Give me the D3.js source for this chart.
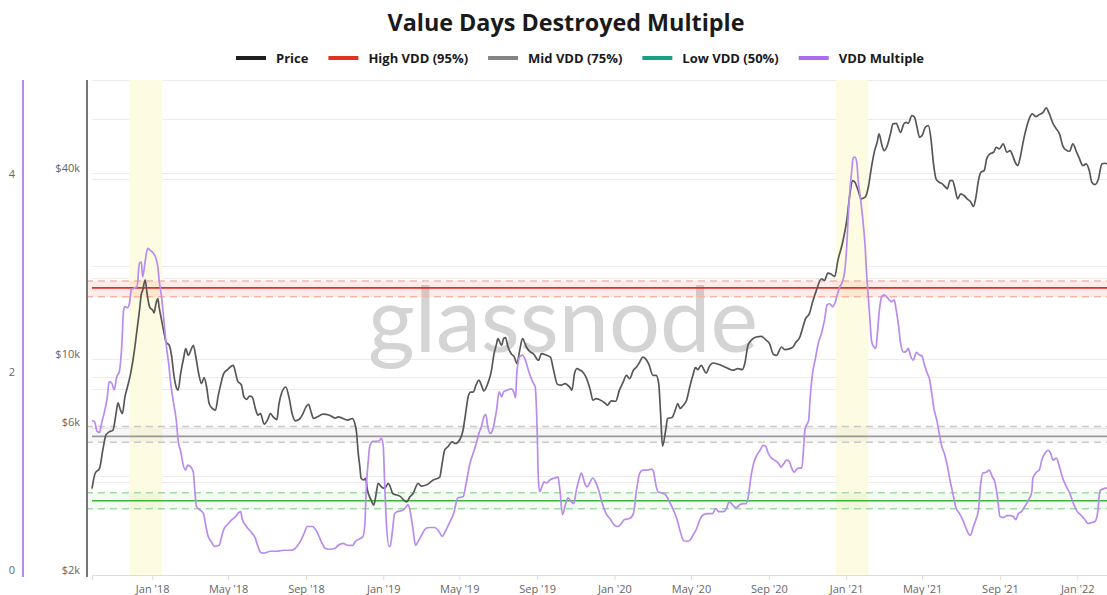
<!DOCTYPE html>
<html>
<head>
<meta charset="utf-8">
<script src="https://cdn.jsdelivr.net/npm/d3@7"></script>
<style>
body { margin: 0; background: #fff; overflow: hidden; }
svg { display: block; }
svg text { font-family: "Open Sans", sans-serif; }
</style>
</head>
<body>
<div id="chart"></div>
<script>
// values
var priceData = [
	["2017-09-28", 3810], ["2017-10-03", 4270], ["2017-10-10", 4430], ["2017-10-15", 5070], ["2017-10-20", 5670],
	["2017-10-25", 5810], ["2017-10-31", 5880], ["2017-11-05", 6660], ["2017-11-08", 7210], ["2017-11-12", 6830],
	["2017-11-15", 6660], ["2017-11-19", 7540], ["2017-11-23", 8120], ["2017-11-28", 8970], ["2017-12-04", 10670],
	["2017-12-08", 12390], ["2017-12-12", 14370], ["2017-12-15", 16270], ["2017-12-17", 16680], ["2017-12-21", 18050],
	["2017-12-24", 16270], ["2017-12-28", 14730], ["2018-01-02", 14370], ["2018-01-04", 14090], ["2018-01-07", 15100],
	["2018-01-10", 15680], ["2018-01-12", 14730], ["2018-01-16", 13340], ["2018-01-20", 12080], ["2018-01-23", 11350],
	["2018-01-28", 11080], ["2018-02-01", 10150], ["2018-02-04", 8970], ["2018-02-08", 8120], ["2018-02-11", 7930],
	["2018-02-15", 8970], ["2018-02-20", 10150], ["2018-02-23", 10810], ["2018-02-27", 10280], ["2018-03-03", 10670],
	["2018-03-07", 11080], ["2018-03-11", 10150], ["2018-03-16", 8860], ["2018-03-20", 8330], ["2018-03-24", 8710],
	["2018-03-28", 8120], ["2018-04-01", 7180], ["2018-04-06", 6920], ["2018-04-11", 6830], ["2018-04-15", 7540],
	["2018-04-19", 8230], ["2018-04-24", 8970], ["2018-04-30", 9240], ["2018-05-09", 9540], ["2018-05-13", 8970],
	["2018-05-16", 8490], ["2018-05-22", 8230], ["2018-05-26", 7540], ["2018-05-30", 7400], ["2018-06-04", 7580],
	["2018-06-08", 7540], ["2018-06-13", 6920], ["2018-06-17", 6580], ["2018-06-21", 6660], ["2018-06-27", 6150],
	["2018-07-02", 6340], ["2018-07-07", 6660], ["2018-07-11", 6500], ["2018-07-17", 6370], ["2018-07-20", 7090],
	["2018-07-25", 7820], ["2018-07-31", 8120], ["2018-08-05", 7540], ["2018-08-10", 6660], ["2018-08-15", 6310],
	["2018-08-21", 6370], ["2018-08-26", 6580], ["2018-09-01", 7000], ["2018-09-05", 7140], ["2018-09-09", 6740],
	["2018-09-13", 6420], ["2018-09-19", 6500], ["2018-09-28", 6630], ["2018-10-08", 6580], ["2018-10-17", 6440],
	["2018-10-22", 6500], ["2018-11-06", 6340], ["2018-11-13", 6420], ["2018-11-17", 6190], ["2018-11-20", 5740],
	["2018-11-22", 5070], ["2018-11-25", 4480], ["2018-11-27", 4110], ["2018-12-01", 4060], ["2018-12-04", 4110],
	["2018-12-07", 3770], ["2018-12-13", 3490], ["2018-12-17", 3370], ["2018-12-20", 3580], ["2018-12-24", 3960],
	["2018-12-29", 3860], ["2019-01-03", 3810], ["2019-01-09", 3960], ["2019-01-12", 3860], ["2019-01-16", 3670],
	["2019-01-27", 3600], ["2019-02-07", 3450], ["2019-02-12", 3580], ["2019-02-17", 3670], ["2019-02-25", 3960],
	["2019-03-02", 3880], ["2019-03-10", 3910], ["2019-03-21", 4060], ["2019-03-31", 4140], ["2019-04-04", 4590],
	["2019-04-08", 5070], ["2019-04-13", 5200], ["2019-04-20", 5390], ["2019-04-25", 5330], ["2019-05-02", 5490],
	["2019-05-07", 5880], ["2019-05-11", 6660], ["2019-05-15", 7540], ["2019-05-19", 7820], ["2019-05-23", 7820],
	["2019-05-28", 8290], ["2019-06-01", 8540], ["2019-06-05", 8230], ["2019-06-09", 7880], ["2019-06-15", 8330],
	["2019-06-21", 9200], ["2019-06-24", 10150], ["2019-06-29", 11220], ["2019-07-01", 11640], ["2019-07-07", 11080],
	["2019-07-10", 11640], ["2019-07-13", 11730], ["2019-07-17", 10940], ["2019-07-22", 10410], ["2019-07-27", 10150],
	["2019-07-31", 9670], ["2019-08-05", 10810], ["2019-08-09", 11640], ["2019-08-15", 10940], ["2019-08-21", 10540],
	["2019-08-26", 10410], ["2019-09-03", 9910], ["2019-09-08", 10410], ["2019-09-16", 10280], ["2019-09-22", 10150],
	["2019-09-27", 9200], ["2019-10-03", 8290], ["2019-10-09", 8230], ["2019-10-15", 8330], ["2019-10-23", 8080],
	["2019-10-26", 7930], ["2019-10-30", 8970], ["2019-11-03", 9310], ["2019-11-08", 9200], ["2019-11-12", 9080],
	["2019-11-17", 8750], ["2019-11-24", 7930], ["2019-11-28", 7360], ["2019-12-03", 7450], ["2019-12-08", 7400],
	["2019-12-18", 7180], ["2019-12-21", 7090], ["2019-12-27", 7320], ["2020-01-03", 7300], ["2020-01-09", 7930],
	["2020-01-15", 8430], ["2020-01-20", 8860], ["2020-01-25", 8640], ["2020-01-31", 9200], ["2020-02-05", 9430],
	["2020-02-10", 9780], ["2020-02-15", 10150], ["2020-02-19", 10030], ["2020-02-24", 9670], ["2020-03-02", 8860],
	["2020-03-07", 8860], ["2020-03-11", 8330], ["2020-03-14", 6660], ["2020-03-17", 5220], ["2020-03-22", 5880],
	["2020-03-25", 6420], ["2020-04-01", 6470], ["2020-04-07", 6920], ["2020-04-10", 7180], ["2020-04-14", 6920],
	["2020-04-19", 7090], ["2020-04-24", 7360], ["2020-04-29", 8120], ["2020-05-04", 8860], ["2020-05-08", 9380],
	["2020-05-12", 9240], ["2020-05-17", 9540], ["2020-05-25", 9010], ["2020-05-30", 9470], ["2020-06-05", 9710],
	["2020-06-13", 9620], ["2020-06-21", 9470], ["2020-06-29", 9310], ["2020-07-06", 9200], ["2020-07-14", 9310],
	["2020-07-21", 9240], ["2020-07-25", 9670], ["2020-07-30", 11080], ["2020-08-04", 11490], ["2020-08-12", 11780],
	["2020-08-20", 11840], ["2020-08-28", 11490], ["2020-09-02", 11220], ["2020-09-08", 10360], ["2020-09-13", 10280],
	["2020-09-21", 10940], ["2020-09-26", 10730], ["2020-10-04", 10810], ["2020-10-09", 10940], ["2020-10-14", 11350],
	["2020-10-20", 11780], ["2020-10-24", 12540], ["2020-10-29", 13510], ["2020-11-04", 14030], ["2020-11-09", 15290],
	["2020-11-15", 16680], ["2020-11-23", 18190], ["2020-11-28", 17970], ["2020-12-03", 18970], ["2020-12-09", 18790],
	["2020-12-14", 18510], ["2020-12-19", 20860], ["2020-12-26", 23620], ["2021-01-02", 28080], ["2021-01-07", 34250],
	["2021-01-11", 37820], ["2021-01-15", 37340], ["2021-01-20", 35100], ["2021-01-25", 33010], ["2021-01-31", 33400],
	["2021-02-05", 35980], ["2021-02-10", 41760], ["2021-02-15", 47260], ["2021-02-19", 50300], ["2021-02-22", 53550],
	["2021-02-26", 49700], ["2021-03-02", 47260], ["2021-03-06", 48460], ["2021-03-12", 53550], ["2021-03-16", 57670],
	["2021-03-21", 57930], ["2021-03-28", 54170], ["2021-04-02", 57670], ["2021-04-06", 58370], ["2021-04-09", 57930],
	["2021-04-15", 61350], ["2021-04-19", 60580], ["2021-04-23", 56240], ["2021-04-27", 52200], ["2021-05-01", 52870],
	["2021-05-06", 56240], ["2021-05-11", 56950], ["2021-05-15", 51580], ["2021-05-19", 42820], ["2021-05-23", 38300],
	["2021-05-28", 37340], ["2021-06-02", 36900], ["2021-06-06", 36160], ["2021-06-10", 35560], ["2021-06-14", 37820],
	["2021-06-18", 37820], ["2021-06-22", 35560], ["2021-06-26", 33010], ["2021-07-01", 34250], ["2021-07-06", 33820],
	["2021-07-11", 33010], ["2021-07-17", 32190], ["2021-07-21", 31160], ["2021-07-25", 33400], ["2021-07-29", 37820],
	["2021-08-02", 40240], ["2021-08-07", 40740], ["2021-08-11", 44450], ["2021-08-16", 46120], ["2021-08-22", 46690],
	["2021-08-26", 48460], ["2021-08-31", 47860], ["2021-09-06", 49700], ["2021-09-12", 46690], ["2021-09-17", 47260],
	["2021-09-21", 45560], ["2021-09-25", 43340], ["2021-09-29", 42280], ["2021-10-03", 44980], ["2021-10-08", 50940],
	["2021-10-13", 56240], ["2021-10-18", 60580], ["2021-10-22", 62120], ["2021-10-28", 60880], ["2021-11-02", 61800],
	["2021-11-08", 62860], ["2021-11-13", 64950], ["2021-11-17", 62860], ["2021-11-24", 57670], ["2021-11-29", 55580],
	["2021-12-04", 53550], ["2021-12-09", 49070], ["2021-12-14", 47520], ["2021-12-20", 47040], ["2021-12-25", 49700],
	["2021-12-31", 46690], ["2022-01-04", 44790], ["2022-01-10", 42280], ["2022-01-15", 42820], ["2022-01-20", 40740],
	["2022-01-24", 37340], ["2022-01-29", 36700], ["2022-02-03", 38020], ["2022-02-09", 42820], ["2022-02-14", 43020],
	["2022-02-17", 42820]
];

var vddData = [
	["2017-09-28", 1.56], ["2017-10-02", 1.55], ["2017-10-06", 1.45], ["2017-10-10", 1.44], ["2017-10-13", 1.53],
	["2017-10-17", 1.63], ["2017-10-22", 1.79], ["2017-10-25", 1.95], ["2017-10-29", 1.94], ["2017-11-02", 1.87],
	["2017-11-06", 2.00], ["2017-11-10", 2.05], ["2017-11-14", 2.31], ["2017-11-17", 2.68], ["2017-11-19", 2.71],
	["2017-11-23", 2.70], ["2017-11-26", 2.74], ["2017-11-29", 2.88], ["2017-12-04", 2.90], ["2017-12-08", 2.91],
	["2017-12-12", 3.15], ["2017-12-15", 3.16], ["2017-12-17", 3.01], ["2017-12-21", 3.17], ["2017-12-25", 3.30],
	["2017-12-29", 3.28], ["2018-01-03", 3.25], ["2018-01-07", 3.20], ["2018-01-10", 3.11], ["2018-01-12", 2.98],
	["2018-01-16", 2.80], ["2018-01-19", 2.61], ["2018-01-23", 2.34], ["2018-01-27", 2.14], ["2018-01-31", 1.90],
	["2018-02-04", 1.73], ["2018-02-08", 1.57], ["2018-02-11", 1.36], ["2018-02-15", 1.25], ["2018-02-20", 1.09],
	["2018-02-23", 1.06], ["2018-02-26", 1.11], ["2018-03-03", 1.09], ["2018-03-07", 1.04], ["2018-03-09", 0.89],
	["2018-03-12", 0.69], ["2018-03-17", 0.66], ["2018-03-23", 0.62], ["2018-03-27", 0.49], ["2018-03-30", 0.40],
	["2018-04-04", 0.34], ["2018-04-10", 0.29], ["2018-04-17", 0.30], ["2018-04-20", 0.37], ["2018-04-24", 0.46],
	["2018-04-30", 0.51], ["2018-05-07", 0.56], ["2018-05-13", 0.59], ["2018-05-16", 0.62], ["2018-05-21", 0.64],
	["2018-05-23", 0.57], ["2018-05-30", 0.49], ["2018-06-08", 0.42], ["2018-06-13", 0.37], ["2018-06-17", 0.29],
	["2018-06-21", 0.23], ["2018-06-26", 0.22], ["2018-07-07", 0.24], ["2018-07-17", 0.24], ["2018-07-28", 0.25],
	["2018-08-09", 0.25], ["2018-08-15", 0.27], ["2018-08-23", 0.34], ["2018-08-29", 0.42], ["2018-09-03", 0.49],
	["2018-09-11", 0.49], ["2018-09-18", 0.44], ["2018-09-25", 0.34], ["2018-10-01", 0.27], ["2018-10-08", 0.26],
	["2018-10-17", 0.27], ["2018-10-22", 0.30], ["2018-10-29", 0.32], ["2018-11-06", 0.30], ["2018-11-14", 0.30],
	["2018-11-18", 0.34], ["2018-11-23", 0.36], ["2018-11-30", 0.39], ["2018-12-03", 0.52], ["2018-12-05", 0.86],
	["2018-12-08", 1.13], ["2018-12-11", 1.31], ["2018-12-16", 1.35], ["2018-12-21", 1.35], ["2018-12-26", 1.36],
	["2018-12-29", 1.38], ["2019-01-01", 1.30], ["2019-01-03", 0.96], ["2019-01-06", 0.52], ["2019-01-10", 0.29],
	["2019-01-12", 0.29], ["2019-01-15", 0.42], ["2019-01-19", 0.62], ["2019-01-23", 0.64], ["2019-01-30", 0.65],
	["2019-02-04", 0.67], ["2019-02-09", 0.71], ["2019-02-12", 0.66], ["2019-02-17", 0.46], ["2019-02-21", 0.30],
	["2019-02-26", 0.35], ["2019-03-04", 0.42], ["2019-03-09", 0.47], ["2019-03-15", 0.48], ["2019-03-23", 0.48],
	["2019-03-30", 0.44], ["2019-04-04", 0.39], ["2019-04-09", 0.44], ["2019-04-15", 0.52], ["2019-04-22", 0.62],
	["2019-04-29", 0.78], ["2019-05-07", 0.79], ["2019-05-12", 0.93], ["2019-05-18", 1.13], ["2019-05-23", 1.23],
	["2019-05-28", 1.33], ["2019-06-01", 1.43], ["2019-06-05", 1.50], ["2019-06-09", 1.60], ["2019-06-12", 1.62],
	["2019-06-15", 1.50], ["2019-06-19", 1.43], ["2019-06-23", 1.47], ["2019-06-29", 1.67], ["2019-07-03", 1.85],
	["2019-07-07", 1.80], ["2019-07-10", 1.85], ["2019-07-17", 1.87], ["2019-07-22", 1.88], ["2019-07-26", 1.85],
	["2019-07-29", 1.79], ["2019-07-31", 2.05], ["2019-08-05", 2.21], ["2019-08-09", 2.22], ["2019-08-14", 2.16],
	["2019-08-19", 2.05], ["2019-08-25", 1.95], ["2019-08-29", 1.90], ["2019-09-01", 1.47], ["2019-09-03", 0.96],
	["2019-09-05", 0.84], ["2019-09-08", 0.88], ["2019-09-12", 0.94], ["2019-09-16", 0.93], ["2019-09-21", 0.96],
	["2019-09-29", 0.98], ["2019-10-04", 0.99], ["2019-10-07", 0.86], ["2019-10-11", 0.61], ["2019-10-16", 0.72],
	["2019-10-20", 0.78], ["2019-10-25", 0.74], ["2019-10-29", 0.72], ["2019-11-02", 0.86], ["2019-11-06", 0.96],
	["2019-11-10", 1.03], ["2019-11-15", 0.93], ["2019-11-19", 0.89], ["2019-11-23", 0.93], ["2019-11-28", 0.98],
	["2019-12-03", 0.93], ["2019-12-08", 0.84], ["2019-12-13", 0.72], ["2019-12-19", 0.62], ["2019-12-26", 0.56],
	["2019-12-31", 0.51], ["2020-01-07", 0.49], ["2020-01-12", 0.52], ["2020-01-17", 0.56], ["2020-01-25", 0.57],
	["2020-01-31", 0.62], ["2020-02-05", 0.86], ["2020-02-10", 1.03], ["2020-02-15", 1.06], ["2020-02-23", 1.06],
	["2020-02-29", 1.07], ["2020-03-03", 1.04], ["2020-03-06", 0.93], ["2020-03-10", 0.84], ["2020-03-15", 0.83],
	["2020-03-22", 0.81], ["2020-03-28", 0.74], ["2020-04-03", 0.66], ["2020-04-09", 0.56], ["2020-04-14", 0.44],
	["2020-04-19", 0.35], ["2020-04-24", 0.34], ["2020-04-29", 0.35], ["2020-05-04", 0.40], ["2020-05-10", 0.47],
	["2020-05-15", 0.56], ["2020-05-21", 0.61], ["2020-05-28", 0.62], ["2020-06-04", 0.62], ["2020-06-09", 0.67],
	["2020-06-14", 0.64], ["2020-06-21", 0.64], ["2020-06-26", 0.67], ["2020-06-30", 0.74], ["2020-07-04", 0.72],
	["2020-07-08", 0.69], ["2020-07-12", 0.68], ["2020-07-17", 0.71], ["2020-07-23", 0.72], ["2020-07-27", 0.72],
	["2020-07-31", 0.81], ["2020-08-03", 0.96], ["2020-08-08", 1.13], ["2020-08-13", 1.21], ["2020-08-18", 1.26],
	["2020-08-23", 1.31], ["2020-08-27", 1.30], ["2020-08-31", 1.23], ["2020-09-05", 1.18], ["2020-09-10", 1.16],
	["2020-09-16", 1.13], ["2020-09-20", 1.09], ["2020-09-24", 1.12], ["2020-09-29", 1.16], ["2020-10-03", 1.15],
	["2020-10-07", 1.08], ["2020-10-11", 1.04], ["2020-10-15", 1.07], ["2020-10-19", 1.08], ["2020-10-23", 1.08],
	["2020-10-26", 1.30], ["2020-10-28", 1.47], ["2020-11-03", 1.57], ["2020-11-05", 1.77], ["2020-11-09", 2.04],
	["2020-11-13", 2.17], ["2020-11-18", 2.34], ["2020-11-23", 2.44], ["2020-11-28", 2.58], ["2020-12-02", 2.73],
	["2020-12-06", 2.74], ["2020-12-11", 2.71], ["2020-12-14", 2.74], ["2020-12-18", 2.83], ["2020-12-22", 2.91],
	["2020-12-26", 2.96], ["2020-12-30", 3.08], ["2021-01-02", 3.32], ["2021-01-04", 3.59], ["2021-01-07", 3.89],
	["2021-01-10", 4.09], ["2021-01-12", 4.21], ["2021-01-15", 4.22], ["2021-01-18", 4.16], ["2021-01-20", 3.99],
	["2021-01-24", 3.79], ["2021-01-28", 3.55], ["2021-01-31", 3.32], ["2021-02-02", 3.08], ["2021-02-05", 2.81],
	["2021-02-08", 2.54], ["2021-02-10", 2.37], ["2021-02-13", 2.31], ["2021-02-17", 2.29], ["2021-02-19", 2.41],
	["2021-02-22", 2.64], ["2021-02-26", 2.81], ["2021-03-02", 2.83], ["2021-03-06", 2.81], ["2021-03-10", 2.78],
	["2021-03-14", 2.76], ["2021-03-18", 2.78], ["2021-03-21", 2.68], ["2021-03-25", 2.51], ["2021-03-28", 2.34],
	["2021-04-02", 2.25], ["2021-04-06", 2.26], ["2021-04-09", 2.29], ["2021-04-13", 2.21], ["2021-04-17", 2.17],
	["2021-04-22", 2.25], ["2021-04-25", 2.23], ["2021-05-01", 2.21], ["2021-05-04", 2.14], ["2021-05-09", 2.04],
	["2021-05-13", 1.97], ["2021-05-17", 1.80], ["2021-05-20", 1.67], ["2021-05-24", 1.57], ["2021-05-28", 1.43],
	["2021-06-01", 1.30], ["2021-06-05", 1.23], ["2021-06-09", 1.13], ["2021-06-14", 0.96], ["2021-06-19", 0.81],
	["2021-06-23", 0.69], ["2021-06-29", 0.62], ["2021-07-04", 0.56], ["2021-07-10", 0.46], ["2021-07-16", 0.40],
	["2021-07-21", 0.49], ["2021-07-25", 0.56], ["2021-07-29", 0.66], ["2021-08-01", 0.89], ["2021-08-05", 1.03],
	["2021-08-11", 1.04], ["2021-08-15", 1.06], ["2021-08-20", 0.99], ["2021-08-24", 0.94], ["2021-08-28", 0.79],
	["2021-09-01", 0.59], ["2021-09-06", 0.58], ["2021-09-12", 0.60], ["2021-09-17", 0.60], ["2021-09-22", 0.59],
	["2021-09-26", 0.56], ["2021-09-30", 0.62], ["2021-10-05", 0.64], ["2021-10-10", 0.69], ["2021-10-16", 0.76],
	["2021-10-21", 0.83], ["2021-10-23", 0.98], ["2021-10-29", 1.04], ["2021-11-02", 1.06], ["2021-11-06", 1.16],
	["2021-11-11", 1.23], ["2021-11-16", 1.26], ["2021-11-20", 1.23], ["2021-11-24", 1.16], ["2021-11-29", 1.18],
	["2021-12-04", 1.09], ["2021-12-09", 0.98], ["2021-12-15", 0.89], ["2021-12-20", 0.83], ["2021-12-25", 0.74],
	["2022-01-01", 0.64], ["2022-01-06", 0.61], ["2022-01-13", 0.56], ["2022-01-18", 0.52], ["2022-01-24", 0.53],
	["2022-01-29", 0.54], ["2022-02-02", 0.62], ["2022-02-06", 0.85], ["2022-02-11", 0.87], ["2022-02-17", 0.88]
];

// VDD levels: centre line and the dashed band around it
var levelNames = ["High VDD (95%)", "Mid VDD (75%)", "Low VDD (50%)"];
var levelMid = [2.90, 1.40, 0.75];
var levelUpper = [2.97, 1.50, 0.83];
var levelLower = [2.81, 1.34, 0.67];

var highlightStart = ["2017-11-26", "2020-12-16"];
var highlightEnd = ["2018-01-17", "2021-02-05"];

var priceTicks = [2000, 6000, 10000, 40000];
var priceGrid = [2000, 4000, 6000, 8000, 10000, 20000, 40000, 60000];
var vddTicks = [0, 2, 4];
var vddGrid = [0, 1, 2, 3, 4, 5];

var legendNames = ["Price", "High VDD (95%)", "Mid VDD (75%)", "Low VDD (50%)", "VDD Multiple"];

// styles
var legendColors = ["#1e1e1e", "#e2321f", "#858585", "#17a180", "#a76cf0"];
var levelLine = ["#e0302a", "#9a9a9a", "#3db53d"];
var levelDash = ["#f7b3a8", "#c9c9c9", "#a3d9a8"];
var levelFill = ["rgba(250,110,90,0.13)", "rgba(0,0,0,0.03)", "rgba(70,190,90,0.06)"];

var width = 1107, height = 595;
var plotLeft = 92, plotRight = 1107, plotTop = 80, plotBottom = 575;

var svg = d3.select("#chart").append("svg")
	.attr("width", width)
	.attr("height", height);

var parse = d3.timeParse("%Y-%m-%d");

var x = d3.scaleTime()
	.domain([parse("2017-09-28"), parse("2022-02-17")])
	.range([plotLeft, plotRight]);

var yPrice = d3.scaleLog()
	.domain([2000, 80000])
	.range([plotBottom, plotTop]);

var yVdd = d3.scaleLinear()
	.domain([0, 5])
	.range([plotBottom, plotTop]);

// grid
var grid = svg.append("g");
grid.selectAll(".pg").data(priceGrid).enter().append("line")
	.attr("x1", plotLeft).attr("x2", plotRight)
	.attr("y1", function(d) { return Math.round(yPrice(d)) + 0.5; })
	.attr("y2", function(d) { return Math.round(yPrice(d)) + 0.5; })
	.attr("stroke", "#ececec");
grid.selectAll(".vg").data(vddGrid).enter().append("line")
	.attr("x1", plotLeft).attr("x2", plotRight)
	.attr("y1", function(d) { return Math.round(yVdd(d)) + 0.5; })
	.attr("y2", function(d) { return Math.round(yVdd(d)) + 0.5; })
	.attr("stroke", "#ececec");

// highlighted periods
svg.selectAll(".hl").data(highlightStart).enter().append("rect")
	.attr("x", function(d) { return x(parse(d)); })
	.attr("y", plotTop)
	.attr("width", function(d, i) { return x(parse(highlightEnd[i])) - x(parse(d)); })
	.attr("height", plotBottom - plotTop)
	.attr("fill", "#fdfbe1");

// watermark
svg.append("text")
	.attr("x", 563)
	.attr("y", 352)
	.attr("text-anchor", "middle")
	.attr("textLength", 390)
	.attr("lengthAdjust", "spacingAndGlyphs")
	.style("font-family", "Lato, sans-serif")
	.style("font-size", "92px")
	.style("fill", "#d4d4d4")
	.text("glassnode");

// level bands
var bands = svg.append("g");
bands.selectAll("rect").data(levelMid).enter().append("rect")
	.attr("x", 86)
	.attr("y", function(d, i) { return yVdd(levelUpper[i]); })
	.attr("width", plotRight - 86)
	.attr("height", function(d, i) { return yVdd(levelLower[i]) - yVdd(levelUpper[i]); })
	.attr("fill", function(d, i) { return levelFill[i]; });

levelMid.forEach(function(m, i) {
	[levelUpper[i], levelLower[i]].forEach(function(v) {
		bands.append("line")
			.attr("x1", 86).attr("x2", plotRight)
			.attr("y1", yVdd(v)).attr("y2", yVdd(v))
			.attr("stroke", levelDash[i])
			.attr("stroke-width", 1.5)
			.attr("stroke-dasharray", "7,5");
	});
	bands.append("line")
		.attr("x1", plotLeft).attr("x2", plotRight)
		.attr("y1", yVdd(m)).attr("y2", yVdd(m))
		.attr("stroke", levelLine[i])
		.attr("stroke-width", 1.6);
});

// series
var priceLine = d3.line()
	.curve(d3.curveMonotoneX)
	.x(function(d) { return x(parse(d[0])); })
	.y(function(d) { return yPrice(d[1]); });

var vddLine = d3.line()
	.curve(d3.curveMonotoneX)
	.x(function(d) { return x(parse(d[0])); })
	.y(function(d) { return yVdd(d[1]); });

svg.append("path")
	.datum(priceData)
	.attr("d", priceLine)
	.attr("fill", "none")
	.attr("stroke", "#575757")
	.attr("stroke-width", 1.7)
	.attr("stroke-linejoin", "round");

svg.append("path")
	.datum(vddData)
	.attr("d", vddLine)
	.attr("fill", "none")
	.attr("stroke", "#b88cef")
	.attr("stroke-width", 1.7)
	.attr("stroke-linejoin", "round");

// axes
var xAxis = svg.append("g")
	.attr("transform", "translate(0," + plotBottom + ")")
	.call(d3.axisBottom(x)
		.ticks(d3.timeMonth.every(4))
		.tickSize(5)
		.tickPadding(5)
		.tickFormat(d3.timeFormat("%b '%y")));
xAxis.select(".domain").attr("stroke", "#dcdcdc");
xAxis.selectAll(".tick line").attr("stroke", "#dcdcdc");
xAxis.selectAll(".tick text")
	.attr("fill", "#666")
	.style("font-size", "11px");

var priceAxis = svg.append("g")
	.attr("transform", "translate(80,0)")
	.call(d3.axisLeft(yPrice)
		.tickValues(priceTicks)
		.tickSize(0)
		.tickPadding(0)
		.tickFormat(function(d) { return "$" + (d / 1000) + "k"; }));
priceAxis.select(".domain").remove();
priceAxis.selectAll(".tick text")
	.attr("dy", "-0.15em")
	.attr("fill", "#666")
	.style("font-size", "11px");

var vddAxis = svg.append("g")
	.attr("transform", "translate(12,0)")
	.call(d3.axisLeft(yVdd)
		.tickValues(vddTicks)
		.tickSize(0)
		.tickPadding(0)
		.tickFormat(d3.format("d")));
vddAxis.select(".domain").remove();
vddAxis.selectAll(".tick text")
	.attr("text-anchor", "middle")
	.attr("dy", "-0.15em")
	.attr("fill", "#666")
	.style("font-size", "11px");

svg.append("line")
	.attr("x1", 87).attr("x2", 87)
	.attr("y1", plotTop).attr("y2", plotBottom + 2)
	.attr("stroke", "#777")
	.attr("stroke-width", 2);

svg.append("line")
	.attr("x1", 23).attr("x2", 23)
	.attr("y1", plotTop).attr("y2", plotBottom + 2)
	.attr("stroke", "#b78bef")
	.attr("stroke-width", 2);

// title
svg.append("text")
	.attr("x", 566)
	.attr("y", 31)
	.attr("text-anchor", "middle")
	.attr("textLength", 357)
	.attr("lengthAdjust", "spacingAndGlyphs")
	.style("font-size", "24px")
	.style("font-weight", 700)
	.style("fill", "#1a1a1a")
	.text("Value Days Destroyed Multiple");

// legend
var legend = svg.append("g");
var lx = 236;
legendNames.forEach(function(name, i) {
	legend.append("line")
		.attr("x1", lx).attr("x2", lx + 30)
		.attr("y1", 58).attr("y2", 58)
		.attr("stroke", legendColors[i])
		.attr("stroke-width", 4);
	var t = legend.append("text")
		.attr("x", lx + 40)
		.attr("y", 63)
		.style("font-size", "13px")
		.style("font-weight", 700)
		.style("fill", "#1a1a1a")
		.text(name);
	lx = lx + 40 + t.node().getComputedTextLength() + 20;
});
</script>
</body>
</html>
